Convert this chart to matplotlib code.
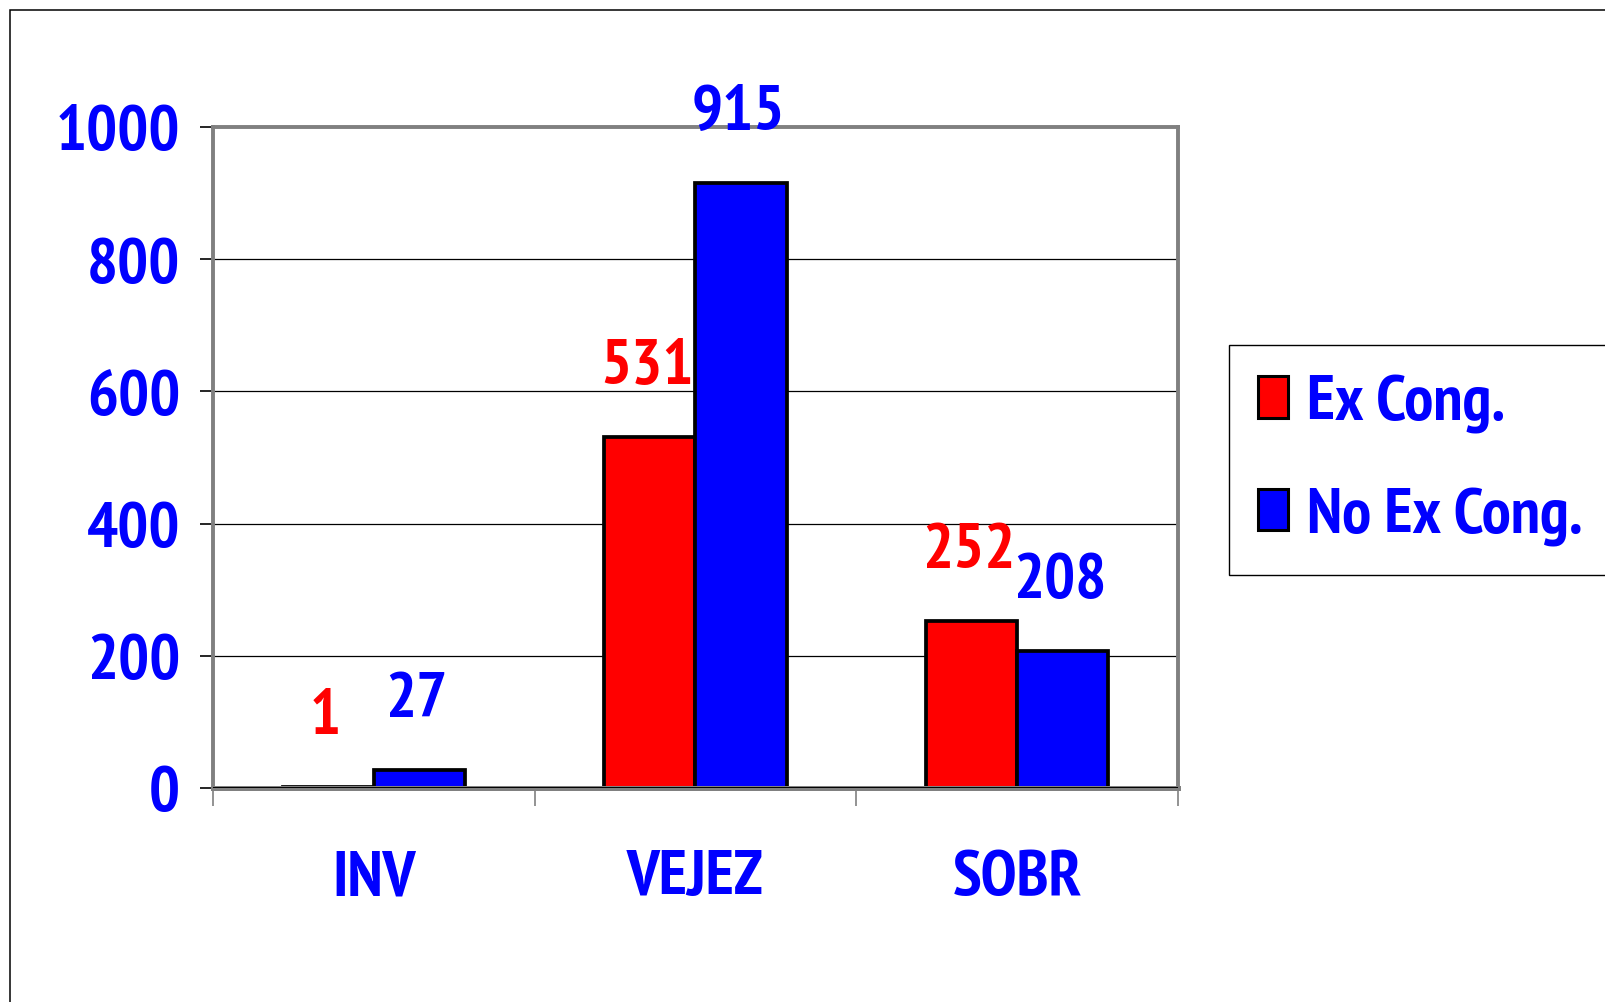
import matplotlib
matplotlib.use("Agg")
import matplotlib.pyplot as plt
from matplotlib import font_manager
from matplotlib.patches import Patch, Rectangle
import numpy as np

categories = ["INV", "VEJEZ", "SOBR"]
ex_cong = [1, 531, 252]
no_ex_cong = [27, 915, 208]
series_names = ["Ex Cong.", "No Ex Cong."]
y_ticks = [0, 200, 400, 600, 800, 1000]

RED = "#FF0000"
BLUE = "#0000FF"
GRAY = "#808080"

# narrow bold sans, closest to the Arial Narrow look of the original
bold_names = {f.name for f in font_manager.fontManager.ttflist if f.weight in (700, "bold")}
prefs = ["Liberation Sans Narrow", "Arial Narrow", "Archivo Narrow", "PT Sans Narrow",
         "Roboto Condensed", "Asap Condensed", "Sofia Sans Condensed", "Liberation Sans"]
family = next(n for n in prefs if n in bold_names)
plt.rcParams["font.family"] = [family, "DejaVu Sans"]
plt.rcParams["font.weight"] = "bold"

FS = 47
W, H, DPI = 1606, 1003, 100

fig = plt.figure(figsize=(W / DPI, H / DPI), dpi=DPI)
ax = fig.add_axes([213 / W, 1 - 789 / H, (1178 - 213) / W, (789 - 128) / H])

x = np.arange(len(categories))
bw = 0.283
bars_red = ax.bar(x - bw / 2, ex_cong, bw, color=RED, edgecolor="black", linewidth=2.7, zorder=2)
bars_blue = ax.bar(x + bw / 2, no_ex_cong, bw, color=BLUE, edgecolor="black", linewidth=2.7, zorder=2)

for bars, vals, col in [(bars_red, ex_cong, RED), (bars_blue, no_ex_cong, BLUE)]:
    for b, v in zip(bars, vals):
        ax.annotate(str(v), (b.get_x() + b.get_width() / 2, v), xytext=(-3, 54),
                    textcoords="offset pixels", ha="center", va="baseline",
                    fontsize=FS, color=col, fontweight="bold", zorder=4)

ax.set_xlim(-0.5, len(categories) - 0.5)
ax.set_ylim(0, 1000)

# y axis
ax.set_yticks(y_ticks)
ax.set_yticklabels([str(t) for t in y_ticks])
ax.tick_params(axis="y", direction="out", length=9.5, width=1.2, color="black",
               pad=14, labelsize=FS, labelcolor=BLUE)
for t in y_ticks[1:-1]:
    ax.axhline(t, color="black", linewidth=0.9, zorder=1)

# x axis: tick marks at category boundaries, labels at centres
ax.set_xticks(np.arange(len(categories) + 1) - 0.5)
ax.set_xticklabels([])
ax.tick_params(axis="x", which="major", direction="out", length=13, width=1.2, color=GRAY)
ax.set_xticks(x, minor=True)
ax.set_xticklabels(categories, minor=True)
ax.tick_params(axis="x", which="minor", length=0, pad=44, labelsize=FS, labelcolor=BLUE)

for s in ax.spines.values():
    s.set_color(GRAY)
    s.set_linewidth(2.8)
ax.spines["bottom"].set_linewidth(3.6)
ax.axhline(0, color="black", linewidth=1.4, zorder=2.6)

leg = fig.legend(handles=[Patch(facecolor=RED, edgecolor="black", linewidth=2.2),
                          Patch(facecolor=BLUE, edgecolor="black", linewidth=2.2)],
                 labels=series_names, loc="upper left",
                 bbox_to_anchor=(1229 / W, 1 - 346 / H), fontsize=FS,
                 handlelength=0.46, handleheight=0.6, handletextpad=0.28,
                 labelspacing=0.82, borderpad=0.45, borderaxespad=0,
                 fancybox=False, framealpha=1)
leg.get_frame().set_edgecolor("black")
leg.get_frame().set_linewidth(1.0)
for t in leg.get_texts():
    t.set_color(BLUE)

fig.patches.append(Rectangle((10 / W, -0.2), 1.5, 1.2 - 11 / H, transform=fig.transFigure,
                             fill=False, edgecolor="black", linewidth=1.1))

fig.savefig("out.png", dpi=DPI)
